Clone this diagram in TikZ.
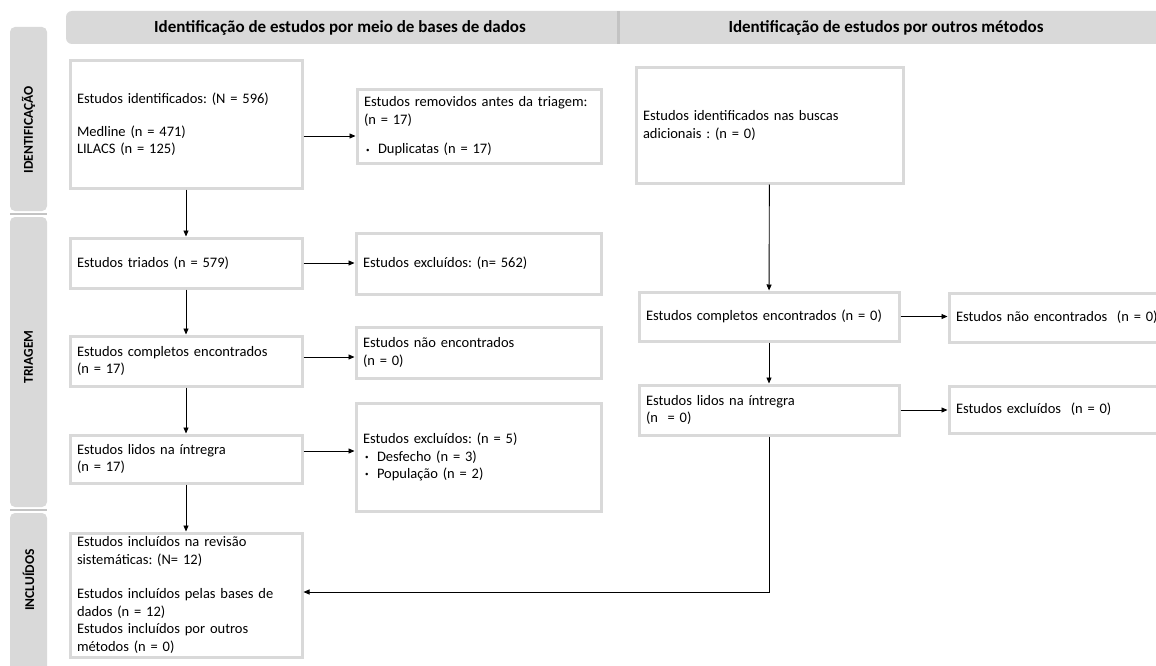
\documentclass[tikz,border=0pt]{standalone}
\usepackage{fontspec}
\setmainfont{Carlito}
\usetikzlibrary{arrows.meta}
\definecolor{boxgray}{HTML}{D9D9D9}
\definecolor{bargray}{HTML}{D9D9D9}
\definecolor{divgray}{HTML}{C3C3C3}
\newcommand{\bl}{\makebox[14pt][l]{\hspace*{2pt}\raisebox{0.25ex}{\fontsize{7}{7}\selectfont•}}}
\frenchspacing
\begin{document}
\begin{tikzpicture}[x=1pt,y=-1pt,
  box/.style={draw=boxgray, line width=3pt, inner xsep=7pt, inner ysep=0pt, align=left,
    font=\fontsize{14.5}{17.5}\selectfont},
  hdr/.style={font=\bfseries\fontsize{17}{18}\selectfont, inner sep=0pt},
  side/.style={font=\bfseries\fontsize{13.5}{14}\selectfont, rotate=90, inner sep=0pt},
  conn/.style={line width=0.9pt, -{Triangle[length=6pt,width=5pt]}},
]
\useasboundingbox (0,0) rectangle (1156,666);
\clip (0,0) rectangle (1156,666);
\fill[white] (0,0) rectangle (1156,666);

% header
\fill[bargray, rounded corners=6pt] (66,11) rectangle (1180,44);
\fill[divgray] (617,11) rectangle (620,44);
\node[hdr] (h1) at (340,27.5) {Identificação de estudos por meio de bases de dados};
\node[hdr] (h2) at (886,27.5) {Identificação de estudos por outros métodos};

% side bars
\fill[bargray, rounded corners=5pt] (10,27) rectangle (47,211);
\fill[bargray, rounded corners=5pt] (10,217) rectangle (47,507);
\fill[bargray, rounded corners=5pt] (10,513) rectangle (47,690);
\fill[divgray] (10,213) rectangle (47,215);
\fill[divgray] (10,509) rectangle (47,511);
\node[side] (sid) at (28.5,130) {IDENTIFICAÇÃO};
\node[side] (stri) at (28.5,357) {TRIAGEM};
\node[side] (sinc) at (28.5,580) {INCLUÍDOS};

% left column
\node[box, minimum width=232, minimum height=127, text width=218] (b1) at (186,124.5)
  {Estudos identificados: (N = 596)\\[15pt]Medline (n = 471)\\LILACS (n = 125)};
\node[box, minimum width=244, minimum height=73, text width=230] (r1) at (479,126.5)
  {\mbox{Estudos removidos antes da triagem:}\\(n = 17)\\[12pt]\bl Duplicatas (n = 17)};
\node[box, minimum width=232, minimum height=50, text width=218] (b2) at (186,263)
  {Estudos triados (n = 579)};
\node[box, minimum width=245, minimum height=61, text width=231] (r2) at (478.5,263.5)
  {Estudos excluídos: (n= 562)};
\node[box, minimum width=232, minimum height=50, text width=218] (b3) at (186,361)
  {Estudos completos encontrados\\(n = 17)};
\node[box, minimum width=245, minimum height=51, text width=231] (r3) at (478.5,352.5)
  {Estudos não encontrados\\(n = 0)};
\node[box, minimum width=232, minimum height=48, text width=218] (b4) at (186,459)
  {Estudos lidos na íntregra\\(n = 17)};
\node[box, minimum width=245, minimum height=108, text width=231] (r4) at (478.5,457)
  {Estudos excluídos: (n = 5)\\\bl Desfecho (n = 3)\\\bl População (n = 2)};
\node[box, minimum width=232, minimum height=124, text width=218] (b5) at (186,595)
  {Estudos incluídos na revisão\\sistemáticas: (N= 12)\\[17pt]\mbox{Estudos incluídos pelas bases de}\\dados (n = 12)\\Estudos incluídos por outros\\métodos (n = 0)};

% right column
\node[box, minimum width=267, minimum height=115, text width=253] (c1) at (769.5,125.5)
  {Estudos identificados nas buscas\\adicionais : (n = 0)};
\node[box, minimum width=260, minimum height=49, text width=246] (c2) at (769,316.5)
  {Estudos completos encontrados (n = 0)};
\node[box, minimum width=221, minimum height=49, text width=207] (d2) at (1059.5,317.5)
  {\mbox{Estudos não encontrados\ \ (n = 0)}};
\node[box, minimum width=260, minimum height=50, text width=246] (c3) at (769,410)
  {Estudos lidos na íntregra\\(n\ \ = 0)};
\node[box, minimum width=221, minimum height=47, text width=207] (d3) at (1059.5,409.5)
  {Estudos excluídos\ \ (n = 0)};

% connectors left
\draw[conn] (b1) -- (b2);
\draw[conn] (b2) -- (b3);
\draw[conn] (b3) -- (b4);
\draw[conn] (b4) -- (b5);
\draw[conn] (b1.east |- 0,136) -- (r1.west |- 0,136);
\draw[conn] (b2) -- (b2 -| r2.west);
\draw[conn] (b3.east |- 0,357) -- (r3.west |- 0,357);
\draw[conn] (b4.east |- 0,451) -- (r4.west |- 0,451);
% connectors right
\draw[conn] (c1) -- (c2);
\draw[conn] (c2) -- (c3);
\draw[conn] (c2) -- (c2 -| d2.west);
\draw[conn] (c3) -- (c3 -| d3.west);
\coordinate (m) at (769,592);
\draw[conn] (c3.south) -- (m) -- (m -| b5.east);
\end{tikzpicture}
\end{document}
